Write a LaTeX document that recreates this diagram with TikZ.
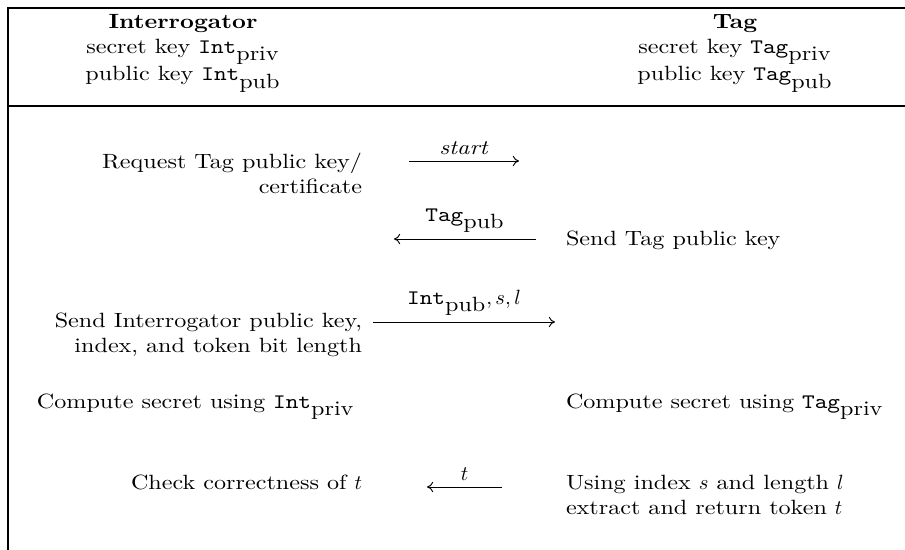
\documentclass[tikz,border=0pt]{standalone}
\usepackage{fontspec}
\setmainfont{Latin Modern Roman}[FakeStretch=1.17]
\setmonofont{Latin Modern Mono}[FakeStretch=1.17]
\usetikzlibrary{arrows.meta}
\newcommand{\tsub}[2]{$\texttt{#1}_{\mbox{#2}}$}
\begin{document}
\begin{tikzpicture}[x=0.485pt,y=-0.485pt,
  frame/.style={line width=1.4pt},
  msg/.style={line width=0.45pt,-{To[length=3pt,width=5pt]}},
  lbl/.style={inner sep=0pt,outer sep=0pt},
  lblup/.style={above=3pt,inner sep=0pt}]
\useasboundingbox (0,0) rectangle (905,550);
% frame
\coordinate (tl) at (8,8);
\coordinate (tr) at (905,8);
\coordinate (bl) at (8,550);
\coordinate (ml) at (8,106);
\coordinate (mr) at (905,106);
\draw[frame] (tr) -- (tl) -- (bl);
\draw[frame] (ml) -- (mr);
% headers
\node[lbl,anchor=base] (ih) at (183,29) {\textbf{Interrogator}};
\node[lbl,anchor=base] (is) at (183,54) {secret key \tsub{Int}{priv}};
\node[lbl,anchor=base] (ip) at (183,81) {public key \tsub{Int}{pub}};
\node[lbl,anchor=base] (th) at (735,29) {\textbf{Tag}};
\node[lbl,anchor=base] (ts) at (735,54) {secret key \tsub{Tag}{priv}};
\node[lbl,anchor=base] (tp) at (735,81) {public key \tsub{Tag}{pub}};
% row 1
\node[lbl,anchor=base east] (r1a) at (362,169) {Request Tag public key/};
\node[lbl,anchor=base east] (r1b) at (362,194) {certificate};
\coordinate (a1s) at (409,161);
\coordinate (a1e) at (519,161);
\draw[msg] (a1s) -- node[lblup] (l1) {\textit{start}} (a1e);
% row 2
\coordinate (a2s) at (536,239);
\coordinate (a2e) at (394,239);
\draw[msg] (a2s) -- node[lblup] (l2) {\tsub{Tag}{pub}} (a2e);
\node[lbl,anchor=base west] (r2) at (566,246) {Send Tag public key};
% row 3
\node[lbl,anchor=base east] (r3a) at (362,328) {Send Interrogator public key,};
\node[lbl,anchor=base east] (r3b) at (362,353) {index, and token bit length};
\coordinate (a3s) at (373,322);
\coordinate (a3e) at (555,322);
\draw[msg] (a3s) -- node[lblup] (l3) {$\texttt{Int}_{\mbox{pub}}, s, l$} (a3e);
% row 4
\node[lbl,anchor=base west] (r4a) at (37,409) {Compute secret using \tsub{Int}{priv}};
\node[lbl,anchor=base west] (r4b) at (566,409) {Compute secret using \tsub{Tag}{priv}};
% row 5
\node[lbl,anchor=base east] (r5a) at (362,490) {Check correctness of $t$};
\coordinate (a5s) at (502,487);
\coordinate (a5e) at (427,487);
\draw[msg] (a5s) -- node[lblup] (l5) {$t$} (a5e);
\node[lbl,anchor=base west] (r5b) at (566,490) {Using index $s$ and length $l$};
\node[lbl,anchor=base west] (r5c) at (566,515) {extract and return token $t$};
\end{tikzpicture}
\end{document}
